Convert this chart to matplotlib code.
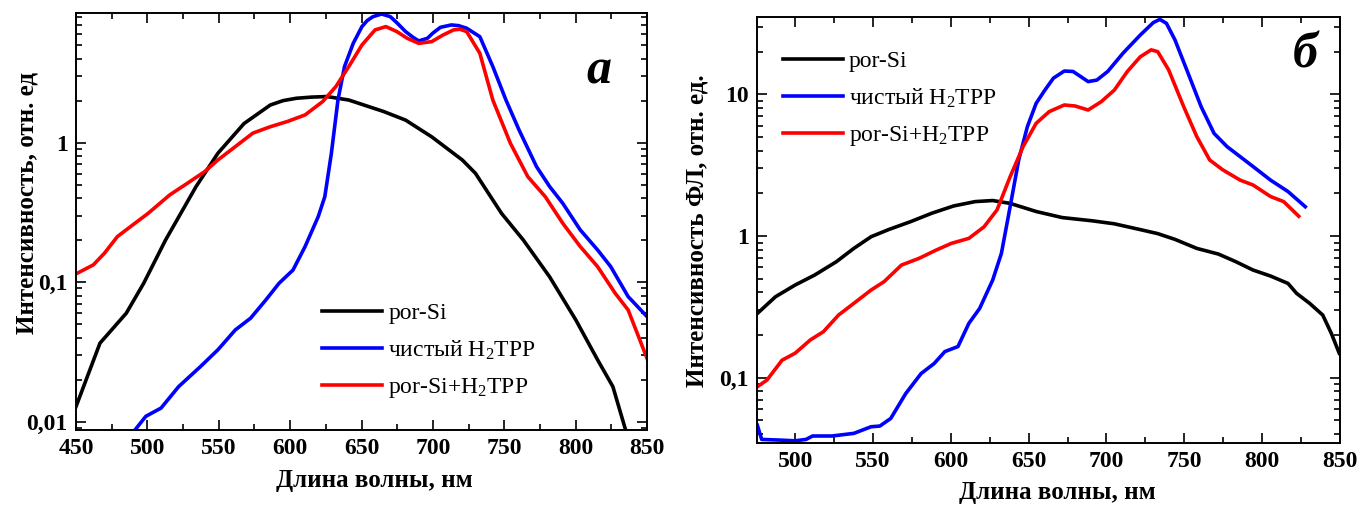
import numpy as np
import matplotlib
matplotlib.use("Agg")
import matplotlib.pyplot as plt
from matplotlib.ticker import FixedLocator, FixedFormatter, LogLocator, MultipleLocator, NullFormatter

plt.rcParams['font.family'] = ['Liberation Serif', 'DejaVu Serif']
plt.rcParams['mathtext.fontset'] = 'custom'
plt.rcParams['mathtext.rm'] = 'Liberation Serif'
plt.rcParams['mathtext.it'] = 'Liberation Serif:italic'
plt.rcParams['mathtext.bf'] = 'Liberation Serif:bold'

# =========================
# PANEL a (left)
# =========================
a_si_x = [450, 466.8, 485.2, 497.4, 512.7, 534.1, 549.4, 567.7, 586.1, 595.0, 604.4, 615.0, 625.8, 641.1,
          665.6, 680.9, 699.2, 720.6, 729.8, 748.1, 763.4, 781.8, 800.1, 815.4, 826.1, 835.3]
a_si_y = [0.0128, 0.0365, 0.0598, 0.098, 0.200, 0.484, 0.839, 1.37, 1.86, 2.0, 2.08, 2.12, 2.14, 2.02,
          1.67, 1.45, 1.10, 0.751, 0.603, 0.311, 0.200, 0.109, 0.0536, 0.0277, 0.0178, 0.0085]

a_tpp_x = [491.3, 498.9, 509.6, 521.9, 537.2, 549.4, 561.6, 572.3, 583.0, 592.2, 602.0, 610.5,
           619.7, 624.3, 628.9, 633.5, 638.1, 644.2, 650.3, 654.0, 658.0, 664.1, 670.2, 675.0, 680.9, 686.0, 690.1,
           696.2, 700.0, 705.3, 713.0, 718.0, 723.7, 732.9, 742.0, 751.2, 760.4, 772.6, 781.8, 791.0, 803.2,
           815.4, 824.6, 836.8, 850]
a_tpp_y = [0.0087, 0.0109, 0.0125, 0.0178, 0.0248, 0.0327, 0.0454, 0.0551, 0.0745, 0.098, 0.122, 0.180,
           0.295, 0.410, 0.839, 2.02, 3.51, 5.15, 6.79, 7.5, 8.0, 8.36, 8.0, 7.2, 6.25, 5.7, 5.36,
           5.60, 6.1, 6.71, 6.98, 6.9, 6.61, 5.75, 3.51, 2.02, 1.23, 0.673, 0.484, 0.367, 0.237,
           0.170, 0.129, 0.0787, 0.0566]

a_mix_x = [450, 462.2, 469.9, 479.0, 488.2, 500.5, 515.7, 528.0, 540.2, 549.4, 561.6, 573.9,
           586.1, 598.3, 610.5, 622.8, 632.0, 641.1, 650.3, 659.5, 667.1, 674.8, 682.0, 690.1, 699.2,
           707.0, 714.5, 719.0, 723.7, 732.9, 742.0, 754.3, 766.5, 778.7, 791.0, 803.2, 815.4, 827.7, 836.8, 850]
a_mix_y = [0.1145, 0.133, 0.161, 0.212, 0.250, 0.311, 0.422, 0.511, 0.620, 0.751, 0.936, 1.17,
           1.30, 1.42, 1.58, 1.97, 2.52, 3.51, 5.01, 6.43, 6.79, 6.25, 5.6, 5.15, 5.30,
           5.9, 6.43, 6.5, 6.25, 4.37, 2.02, 0.989, 0.570, 0.410, 0.264, 0.180, 0.129, 0.0832, 0.0631, 0.0284]

# =========================
# PANEL б (right)
# =========================
b_si_x = [475.7, 487.4, 500, 512.6, 526.5, 537.7, 548.8, 560.0, 573.9, 587.9, 601.8, 615.7,
          626.9, 638.1, 654.8, 671.5, 691.0, 705.0, 721.7, 732.9, 744.0, 758.0, 771.9, 783.1,
          794.2, 805.4, 816.6, 822.1, 830.5, 838.9, 844.4, 849.5]
b_si_y = [0.284, 0.373, 0.451, 0.531, 0.659, 0.818, 0.989, 1.11, 1.26, 1.45, 1.63, 1.75,
          1.78, 1.70, 1.49, 1.35, 1.28, 1.22, 1.11, 1.04, 0.947, 0.818, 0.746, 0.659,
          0.575, 0.522, 0.463, 0.394, 0.335, 0.277, 0.206, 0.149]

b_tpp_x = [475.7, 478.5, 490.2, 500, 507.0, 511.2, 523.7, 537.7, 548.8, 554.4, 561.4, 571.1,
           580.9, 589.3, 596.2, 604.6, 611.6, 618.5, 626.9, 632.5, 638.1, 643.6, 649.2, 654.8,
           660.4, 665.9, 672.9, 678.5, 688.2, 693.8, 700.8, 710.6, 721.7, 730.1, 734.3, 738.5,
           744.0, 752.4, 760.8, 769.1, 777.5, 785.9, 794.2, 805.4, 816.6, 827.7]
b_tpp_y = [0.0463, 0.0367, 0.0363, 0.0359, 0.0367, 0.0388, 0.0388, 0.0405, 0.0451, 0.0456, 0.0516, 0.0775,
           0.107, 0.126, 0.153, 0.166, 0.242, 0.308, 0.489, 0.755, 1.61, 3.44, 5.92, 8.63,
           10.7, 13.0, 14.6, 14.5, 12.3, 12.6, 14.5, 19.5, 26.2, 32.1, 33.8, 31.7,
           24.2, 14.1, 8.18, 5.30, 4.27, 3.63, 3.09, 2.48, 2.06, 1.61]

b_mix_x = [475.7, 481.9, 491.6, 500, 509.8, 518.1, 527.9, 537.7, 548.8, 557.2, 568.3, 579.5,
           590.6, 600.4, 611.6, 621.3, 629.7, 638.1, 646.4, 654.8, 663.2, 672.9, 679.9, 688.2,
           696.6, 705.0, 713.4, 721.7, 728.7, 732.9, 739.9, 749.6, 758.0, 766.3, 774.7, 785.9,
           794.2, 805.4, 813.8, 823.5]
b_mix_y = [0.0864, 0.0963, 0.133, 0.149, 0.185, 0.211, 0.277, 0.335, 0.416, 0.477, 0.624, 0.695,
           0.796, 0.888, 0.963, 1.16, 1.53, 2.62, 4.27, 6.24, 7.55, 8.41, 8.27, 7.75,
           8.87, 10.7, 14.5, 18.4, 20.6, 20.0, 14.9, 8.18, 5.03, 3.44, 2.93, 2.48,
           2.29, 1.90, 1.75, 1.38]

labels = ["por-Si", r"чистый H$_\mathrm{2}$TPP", r"por-Si+H$_\mathrm{2}$TPP"]
colors = ["black", "#0000ff", "#ff0000"]

a_yticks = [0.01, 0.1, 1]
a_yticklabels = ["0,01", "0,1", "1"]
b_yticks = [0.1, 1, 10]
b_yticklabels = ["0,1", "1", "10"]

W, H = 1357, 508
fig = plt.figure(figsize=(W / 100, H / 100), dpi=100)

ax1 = fig.add_axes([76 / W, 1 - 430 / H, 571 / W, 417 / H])
ax2 = fig.add_axes([757 / W, 1 - 442.7 / H, 583 / W, 426 / H])

lw = 2.6
for ax, xs, ys in [(ax1, [a_si_x, a_tpp_x, a_mix_x], [a_si_y, a_tpp_y, a_mix_y]),
                   (ax2, [b_si_x, b_tpp_x, b_mix_x], [b_si_y, b_tpp_y, b_mix_y])]:
    for x, y, c, lab in zip(xs, ys, colors, labels):
        ax.plot(x, y, color=c, lw=lw, label=lab, solid_joinstyle='round')
    ax.set_yscale('log')
    ax.xaxis.set_major_locator(MultipleLocator(50))
    ax.xaxis.set_minor_locator(MultipleLocator(25))
    ax.yaxis.set_minor_locator(LogLocator(base=10, subs=np.arange(2, 10)))
    ax.yaxis.set_minor_formatter(NullFormatter())
    ax.tick_params(which='both', direction='in', top=True, right=True, width=1.2)
    ax.tick_params(which='major', length=7, labelsize=17, pad=6)
    ax.tick_params(which='minor', length=4)
    for s in ax.spines.values():
        s.set_linewidth(1.4)
    ax.set_xlabel("Длина волны, нм", fontsize=18, fontweight='bold')

ax1.set_xlim(450, 850)
ax1.set_ylim(0.0087, 8.5)
ax1.yaxis.set_major_locator(FixedLocator(a_yticks))
ax1.yaxis.set_major_formatter(FixedFormatter(a_yticklabels))
ax1.set_ylabel("Интенсивность, отн. ед", fontsize=18, fontweight='bold')
ax1.yaxis.set_label_coords(-0.066, 0.544)
ax1.xaxis.set_label_coords(0.522, -0.093)
ax1.text(0.915, 0.86, "а", transform=ax1.transAxes, fontsize=36, fontweight='bold',
         style='italic', ha='center', va='center')
ax1.legend(loc='upper left', bbox_to_anchor=(0.431, 0.305), frameon=False, fontsize=17,
           handlelength=2.55, handletextpad=0.25, borderpad=0, borderaxespad=0, labelspacing=0.6)

ax2.set_xlim(475.5, 850)
ax2.set_ylim(0.0348, 35.3)
ax2.yaxis.set_major_locator(FixedLocator(b_yticks))
ax2.yaxis.set_major_formatter(FixedFormatter(b_yticklabels))
ax2.set_ylabel("Интенсивность ФЛ, отн. ед.", fontsize=18, fontweight='bold')
ax2.yaxis.set_label_coords(-0.084, 0.497)
ax2.xaxis.set_label_coords(0.516, -0.09)
ax2.text(0.94, 0.91, "б", transform=ax2.transAxes, fontsize=36, fontweight='bold',
         style='italic', ha='center', va='center')
ax2.legend(loc='upper left', bbox_to_anchor=(0.0446, 0.92), frameon=False, fontsize=17,
           handlelength=2.55, handletextpad=0.25, borderpad=0, borderaxespad=0, labelspacing=0.6)

for ax in (ax1, ax2):
    for t in ax.get_xticklabels() + ax.get_yticklabels():
        t.set_fontweight('bold')

fig.savefig("out.png", dpi=100)
